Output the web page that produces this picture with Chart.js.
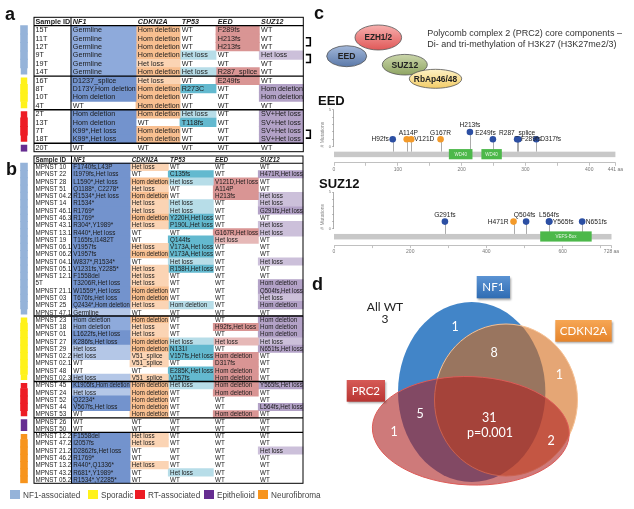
<!DOCTYPE html>
<html>
<head>
<meta charset="utf-8">
<script src="https://cdn.jsdelivr.net/npm/chart.js@4.4.1/dist/chart.umd.min.js"></script>
<style>
html,body{margin:0;padding:0;background:#fff;}
body{position:relative;width:634px;height:509px;overflow:hidden;font-family:"Liberation Sans",Arial,Helvetica,sans-serif;}
canvas{position:absolute;}
.pl{position:absolute;font-weight:bold;font-size:18px;line-height:18px;color:#111;}
.ttl{position:absolute;font-weight:bold;font-size:13px;line-height:13px;color:#111;}
.lg{position:absolute;top:490px;height:11px;font-size:8.2px;line-height:11px;color:#444;white-space:nowrap;}
.lg i{display:inline-block;width:10px;height:9px;vertical-align:-1px;margin-right:3px;}
</style>
</head>
<body>
<canvas id="tA" width="320" height="160" style="left:0;top:0"></canvas>
<canvas id="tB" width="320" height="340" style="left:0;top:150px"></canvas>
<canvas id="pc" width="318" height="92" style="left:316px;top:0"></canvas>
<canvas id="eed" width="318" height="85" style="left:316px;top:90px"></canvas>
<canvas id="suz" width="318" height="85" style="left:316px;top:172px"></canvas>
<canvas id="venn" width="316" height="259" style="left:318px;top:250px"></canvas>
<div class="pl" style="left:5px;top:5px">a</div>
<div class="pl" style="left:6px;top:160px">b</div>
<div class="pl" style="left:314px;top:4px">c</div>
<div class="pl" style="left:312px;top:275px">d</div>
<div class="ttl" style="left:318px;top:94px">EED</div>
<div class="ttl" style="left:319px;top:177px">SUZ12</div>
<div id="legend"></div>
<script>
// ---------------- DATA ----------------
const headers = ['Sample ID', 'NF1', 'CDKN2A', 'TP53', 'EED', 'SUZ12'];
const groupNames = ['NF1-associated', 'Sporadic', 'RT-associated', 'Epithelioid', 'Neurofibroma'];
const groupColors = ['#95b3d9', '#fff21a', '#ed1c24', '#662d91', '#f7941d'];

// Table a
const aSamples = ['15T','11T','12T','9T','19T','14T','16T','8T','10T','4T','2T','13T','7T','18T','20T'];
const aGroups  = [0,0,0,0,0,0,1,1,1,1,2,2,2,2,3];
const aNF1    = ['Germline','Germline','Germline','Germline','Germline','Germline','D1237_splice','D173Y,Hom deletion','Hom deletion','WT','Hom deletion','Hom deletion','K99*,Het loss','K99*,Het loss','WT'];
const aCDKN2A = ['Hom deletion','Hom deletion','Hom deletion','Hom deletion','Het loss','Hom deletion','Het loss','Hom deletion','Hom deletion','Hom deletion','Hom deletion','WT','Hom deletion','Hom deletion','WT'];
const aTP53   = ['WT','WT','WT','Het loss','WT','Het loss','WT','R273C','WT','WT','Het loss','T118fs','WT','WT','WT'];
const aEED    = ['F289fs','H213fs','H213fs','WT','WT','R287_splice','E249fs','WT','WT','WT','WT','WT','WT','WT','WT'];
const aSUZ12  = ['WT','WT','WT','Het loss','WT','WT','WT','Hom deletion','Hom deletion','WT','SV+Het loss','SV+Het loss','SV+Het loss','SV+Het loss','WT'];
const aPairs  = [['11T','12T'], ['9T','19T'], ['7T','18T']];

// Table b
const bSamples = ['MPNST 10','MPNST 22','MPNST 28','MPNST 51','MPNST 04.2','MPNST 14','MPNST 46.1','MPNST 46.3','MPNST 43.1','MPNST 13.1','MPNST 19','MPNST 06.1','MPNST 06.2','MPNST 04.1','MPNST 05.1','MPNST 12.1','5T','MPNST 21.1','MPNST 03','MPNST 25','MPNST 47.1',
  'MPNST 23','MPNST 18','MPNST 01','MPNST 27','MPNST 29','MPNST 02.2','MPNST 02.1','MPNST 48','MPNST 02.3',
  'MPNST 45','MPNST 24','MPNST 52','MPNST 44','MPNST 53',
  'MPNST 26','MPNST 50',
  'MPNST 12.2','MPNST 47.2','MPNST 21.2','MPNST 46.2','MPNST 13.2','MPNST 43.2','MPNST 05.2'];
const bGroups = [0,0,0,0,0,0,0,0,0,0,0,0,0,0,0,0,0,0,0,0,0, 1,1,1,1,1,1,1,1,1, 2,2,2,2,2, 3,3, 4,4,4,4,4,4,4];
const bNF1 = ['F1740fs,L43P','I1979fs,Het loss','L1590*,Het loss','Q1188*, C2278*','R1534*,Het loss','R1534*','R1769*','R1769*','R304*,Y1989*','R440*,Het loss','T165fs,I1482T','V1957fs','V1957fs','W837*,R1534*','V1231fs,Y2285*','F1558del','T3206R,Het loss','W1559*,Het loss','T676fs,Het loss','Q2434*,Hom deletion','Germline',
  'Hom deletion','Hom deletion','L1622fs,Het loss','K286fs,Het loss','Het loss','Het loss','WT','WT','Het loss',
  'K1905fs,Hom deletion','Het loss','Q2234*','V567fs,Het loss','WT',
  'WT','WT',
  'F1558del','I2057fs','D2862fs,Het loss','R1769*','R440*,Q1336*','R681*,Y1989*','R1534*,Y2285*'];
const bCDKN2A = ['Het loss','WT','Hom deletion','Het loss','Hom deletion','Het loss','Het loss','Hom deletion','Het loss','WT','WT','Het loss','Hom deletion','WT','Het loss','Het loss','Het loss','Hom deletion','Hom deletion','Het loss','WT',
  'Hom deletion','Het loss','Het loss','Hom deletion','Hom deletion','V51_splice','V51_splice','WT','V51_splice',
  'Hom deletion','Hom deletion','Hom deletion','Hom deletion','Hom deletion',
  'WT','WT',
  'Het loss','Het loss','WT','WT','Het loss','WT','WT'];
const bTP53 = ['WT','C135fs','Het loss','WT','WT','Het loss','Het loss','Y220H,Het loss','P190L,Het loss','WT','Q144fs','V173A,Het loss','V173A,Het loss','Het loss','R158H,Het loss','WT','WT','WT','WT','Hom deletion','WT',
  'WT','WT','WT','Het loss','N131I','V157fs,Het loss','WT','E285K,Het loss','V157fs',
  'Het loss','WT','WT','WT','WT',
  'WT','WT',
  'WT','WT','WT','WT','WT','Het loss','WT'];
const bEED = ['WT','WT','V121D,Het loss','A114P','H213fs','WT','WT','WT','WT','G167R,Het loss','Het loss','WT','WT','WT','WT','WT','WT','WT','WT','WT','WT',
  'WT','H92fs,Het loss','WT','Het loss','WT','Hom deletion','D317fs','Hom deletion','Hom deletion',
  'Hom deletion','Hom deletion','WT','WT','Hom deletion',
  'WT','WT',
  'WT','WT','WT','WT','WT','WT','WT'];
const bSUZ12 = ['WT','H471R,Het loss','WT','WT','Het loss','Het loss','G291fs,Het loss','WT','Het loss','Het loss','WT','WT','WT','Het loss','WT','WT','Hom deletion','Q504fs,Het loss','Het loss','Hom deletion','WT',
  'Hom deletion','Hom deletion','Hom deletion','Het loss','N651fs,Het loss','WT','WT','WT','WT',
  'Y565fs,Het loss','WT','WT','L564fs,Het loss','WT',
  'WT','WT',
  'WT','WT','Het loss','WT','WT','WT','WT'];

// EED lollipop
const eedLength = 441;
const eedMutations = ['H92fs','A114P','V121D','G167R','H213fs','E249fs','R287_splice','F289fs','D317fs'];
const eedPositions = [92, 114, 121, 167, 213, 249, 287, 289, 317];
const eedCounts    = [1, 1, 1, 1, 2, 1, 1, 1, 1];
const eedTypes     = ['Truncating','Missense','Missense','Missense','Truncating','Truncating','Truncating','Truncating','Truncating'];
const eedDomainNames  = ['WD40', 'WD40'];
const eedDomainStarts = [180, 231];
const eedDomainEnds   = [217, 263];

// SUZ12 lollipop
const suzLength = 728;
const suzMutations = ['G291fs','H471R','Q504fs','L564fs','Y565fs','N651fs'];
const suzPositions = [291, 471, 504, 564, 565, 651];
const suzCounts    = [1, 1, 1, 1, 1, 1];
const suzTypes     = ['Truncating','Missense','Truncating','Truncating','Truncating','Truncating'];
const suzDomainNames  = ['VEFS-Box'];
const suzDomainStarts = [541];
const suzDomainEnds   = [676];

// Venn
const vennSets    = ['NF1', 'CDKN2A', 'PRC2'];
const vennRegions = ['NF1 only', 'NF1+CDKN2A', 'CDKN2A only', 'NF1+PRC2', 'PRC2 only', 'NF1+CDKN2A+PRC2', 'CDKN2A+PRC2'];
const vennCounts  = [1, 8, 1, 5, 1, 31, 2];
const allWTCount  = 3;
const pValue      = '0.001';

// ---------------- STYLE / LAYOUT ----------------
const FONT = '"Liberation Sans", Arial, Helvetica, sans-serif';
Chart.defaults.font.family = FONT;

function cellColor(gene, v, tbl) {
  if (v === 'WT') return null;
  const het = v === 'Het loss';
  const hom = v === 'Hom deletion';
  switch (gene) {
    case 'NF1':
      if (v === 'Germline') return tbl === 'a' ? '#8eaadb' : '#b4c7e7';
      if (het) return '#b4c7e7';
      if (hom) return tbl === 'a' ? '#7393cd' : '#8eaadb';
      return '#7393cd';
    case 'CDKN2A': return hom ? '#f8bf90' : '#fbd4b4';
    case 'TP53': return (het || hom) ? '#b7dde8' : '#63b9cf';
    case 'EED': return het ? '#e6b8b7' : '#d99594';
    case 'SUZ12': return het ? '#ccc0da' : '#b3a2c7';
  }
  return null;
}

function line(ctx, x0, y0, x1, y1) { ctx.beginPath(); ctx.moveTo(x0, y0); ctx.lineTo(x1, y1); ctx.stroke(); }

function buildTable(id, tbl, samples, groups, cols, edges, font, padTop, padBottom, pairs) {
  const N = samples.length + 1;
  const labels = ['Sample ID'].concat(samples);
  const stripX = [20.7, 27.3];
  const datasets = [];
  datasets.push({
    label: 'group',
    data: labels.map((l, i) => i === 0 ? null : stripX.slice()),
    backgroundColor: labels.map((l, i) => i === 0 ? 'rgba(0,0,0,0)' : groupColors[groups[i - 1]]),
    borderColor: '#ffffff',
    borderWidth: (c) => {
      const i = c.dataIndex;
      if (i === 0) return 0;
      const g = groups[i - 1];
      const top = (i > 1 && groups[i - 2] !== g) ? 2 : 0;
      const bottom = (i < N - 1 && groups[i] !== g) ? 2 : 0;
      return { top: top, bottom: bottom, left: 0, right: 0 };
    },
    borderSkipped: false, inflateAmount: 0.5,
    grouped: false, barPercentage: 1, categoryPercentage: 1
  });
  cols.forEach((arr, c) => {
    const gene = headers[c + 1];
    datasets.push({
      label: gene,
      data: labels.map((l, i) => (i === 0 || !cellColor(gene, arr[i - 1], tbl)) ? null : [edges[c + 1], edges[c + 2]]),
      backgroundColor: labels.map((l, i) => i === 0 ? 'rgba(0,0,0,0)' : (cellColor(gene, arr[i - 1], tbl) || 'rgba(0,0,0,0)')),
      borderWidth: 0, inflateAmount: 0.4, grouped: false, barPercentage: 1, categoryPercentage: 1
    });
  });
  const plug = {
    id: 'tbl_' + id,
    afterDatasetsDraw(chart) {
      const { ctx, chartArea: ca, scales: { x, y } } = chart;
      const X = v => x.getPixelForValue(v);
      const yc = i => y.getPixelForValue(i);
      const yb = i => (i <= 0) ? ca.top : (i >= N ? ca.bottom : (yc(i - 1) + yc(i)) / 2);
      ctx.save();
      ctx.textBaseline = 'middle';
      ctx.textAlign = 'left';
      ctx.fillStyle = '#1a1a1a';
      for (let i = 0; i < N; i++) {
        for (let c = 0; c < 6; c++) {
          let t;
          if (i === 0) {
            t = headers[c];
            ctx.font = (c === 0 ? 'bold ' : 'italic bold ') + font + 'px ' + FONT;
          } else {
            t = c === 0 ? samples[i - 1] : cols[c - 1][i - 1];
            ctx.font = font + 'px ' + FONT;
          }
          const x0 = X(edges[c]) + (c === 0 ? 1.5 : 1.8);
          const maxW = X(edges[c + 1]) - x0 - 0.3;
          ctx.fillText(t, x0, yc(i) + 0.4, maxW);
        }
      }
      ctx.strokeStyle = '#000';
      ctx.lineWidth = 1;
      ctx.strokeRect(X(edges[0]), ca.top, X(edges[6]) - X(edges[0]), ca.bottom - ca.top);
      line(ctx, X(edges[1]), ca.top, X(edges[1]), ca.bottom);
      ctx.lineWidth = 1.2;
      line(ctx, X(edges[0]), yb(1), X(edges[6]), yb(1));
      ctx.lineWidth = 1.4;
      for (let j = 2; j < N; j++) {
        if (groups[j - 1] !== groups[j - 2]) line(ctx, X(edges[0]), yb(j), X(edges[6]), yb(j));
      }
      if (pairs) {
        ctx.lineWidth = 1.6;
        pairs.forEach(p => {
          const i1 = samples.indexOf(p[0]) + 1, i2 = samples.indexOf(p[1]) + 1;
          const y1 = yc(i1) - 0.5, y2 = yc(i2) - 1;
          const xa = X(edges[6]) + 2.5, xb = X(edges[6]) + 7;
          ctx.beginPath(); ctx.moveTo(xa, y1); ctx.lineTo(xb, y1); ctx.lineTo(xb, y2); ctx.lineTo(xa, y2); ctx.stroke();
        });
      }
      ctx.restore();
    }
  };
  const cv = document.getElementById(id);
  return new Chart(cv, {
    type: 'bar',
    data: { labels: labels, datasets: datasets },
    options: {
      responsive: false, animation: false, devicePixelRatio: 1,
      indexAxis: 'y',
      layout: { padding: { left: 0, right: 0, top: padTop, bottom: padBottom } },
      scales: {
        x: { type: 'linear', min: 0, max: cv.width, display: false },
        y: { type: 'category', display: false, offset: true }
      },
      plugins: { legend: { display: false }, tooltip: { enabled: false } }
    },
    plugins: [plug]
  });
}

const edgesA = [34, 71, 136, 180, 216, 259.3, 303.3];
const edgesB = [34, 71.5, 130, 168.3, 213.3, 258.3, 303];
buildTable('tA', 'a', aSamples, aGroups, [aNF1, aCDKN2A, aTP53, aEED, aSUZ12], edgesA, 7.2, 17.3, 8.3, aPairs);
buildTable('tB', 'b', bSamples, bGroups, [bNF1, bCDKN2A, bTP53, bEED, bSUZ12], edgesB, 6.3, 6, 6.7, null);

// Legend
(function () {
  const lefts = [10, 88, 135, 204, 258];
  const el = document.getElementById('legend');
  groupNames.forEach((g, i) => {
    const d = document.createElement('div');
    d.className = 'lg';
    d.style.left = lefts[i] + 'px';
    d.innerHTML = '<i style="background:' + groupColors[i] + '"></i>' + g;
    el.appendChild(d);
  });
})();

// ---------------- LOLLIPOPS ----------------
const BAR = [-0.68, -1.43];
const DOM = [-0.33, -1.72];
function buildLollipop(id, p) {
  const trunc = [], mis = [];
  p.names.forEach((n, i) => {
    const pt = { x: p.positions[i], y: p.counts[i] };
    (p.types[i] === 'Missense' ? mis : trunc).push(pt);
  });
  const plug = {
    id: 'lol_' + id,
    beforeDatasetsDraw(chart) {
      const { ctx, scales: { x, y } } = chart;
      ctx.save();
      const bt = y.getPixelForValue(BAR[0]), bb = y.getPixelForValue(BAR[1]);
      ctx.fillStyle = '#c8c8c8';
      ctx.fillRect(x.getPixelForValue(0), bt, x.getPixelForValue(p.length) - x.getPixelForValue(0), bb - bt);
      ctx.strokeStyle = '#ababab'; ctx.lineWidth = 1;
      p.positions.forEach((pos, i) => {
        const px = Math.round(x.getPixelForValue(pos)) + 0.5;
        line(ctx, px, bt, px, y.getPixelForValue(p.counts[i]));
      });
      p.domainNames.forEach((d, i) => {
        const x0 = x.getPixelForValue(p.domainStarts[i]), x1 = x.getPixelForValue(p.domainEnds[i]);
        const t = y.getPixelForValue(DOM[0]), b = y.getPixelForValue(DOM[1]);
        ctx.fillStyle = '#4cb84a';
        ctx.fillRect(x0, t, x1 - x0, b - t);
        ctx.fillStyle = '#e6f4e4';
        ctx.font = '4.5px ' + FONT; ctx.textAlign = 'center'; ctx.textBaseline = 'middle';
        ctx.fillText(d, (x0 + x1) / 2, (t + b) / 2 + 0.3);
      });
      ctx.strokeStyle = '#999'; ctx.lineWidth = 0.8;
      const ax = y.right - 0.5;
      line(ctx, ax, y.getPixelForValue(0), ax, y.getPixelForValue(5));
      ctx.restore();
    },
    afterDatasetsDraw(chart) {
      const { ctx, scales: { x, y } } = chart;
      ctx.save();
      ctx.font = p.labelFont + 'px ' + FONT;
      ctx.fillStyle = '#222';
      ctx.textBaseline = 'middle';
      p.names.forEach((n, i) => {
        const px = x.getPixelForValue(p.positions[i]), py = y.getPixelForValue(p.counts[i]);
        const pl = p.place[i];
        if (pl[0] === 'a') { ctx.textAlign = 'center'; ctx.fillText(n, px + pl[1], py - 6.4 + pl[2]); }
        else if (pl[0] === 'l') { ctx.textAlign = 'right'; ctx.fillText(n, px - 4 + pl[1], py + 0.3 + pl[2]); }
        else { ctx.textAlign = 'left'; ctx.fillText(n, px + 4 + pl[1], py + 0.3 + pl[2]); }
      });
      ctx.restore();
    }
  };
  return new Chart(document.getElementById(id), {
    type: 'scatter',
    data: {
      datasets: [
        { label: 'Truncating', data: trunc, pointRadius: 3.3, pointBackgroundColor: '#2c4fa3', pointBorderWidth: 0, pointBorderColor: '#2c4fa3' },
        { label: 'Missense', data: mis, pointRadius: 3.3, pointBackgroundColor: '#f39a2a', pointBorderWidth: 0, pointBorderColor: '#f39a2a' }
      ]
    },
    options: {
      responsive: false, animation: false, devicePixelRatio: 1,
      layout: { padding: { left: 4, right: p.padRight, top: p.padTop, bottom: p.padBottom } },
      scales: {
        x: {
          type: 'linear', min: 0, max: p.length,
          afterBuildTicks: (s) => { s.ticks = p.xTicks.map(v => ({ value: v })); },
          afterFit: (s) => { s.height = 10; },
          ticks: { autoSkip: false, maxRotation: 0, minRotation: 0, padding: 1, color: '#777', font: { size: 5 },
            callback: (v) => v === p.length ? (v + ' aa') : (p.xLabels.includes(v) ? String(v) : '') },
          grid: { drawOnChartArea: false, drawTicks: true, tickLength: 3, color: '#999', lineWidth: 0.6 },
          border: { display: true, color: '#b0b0b0', width: 0.8 }
        },
        y: {
          type: 'linear', min: -2.2, max: 5.5,
          afterBuildTicks: (s) => { s.ticks = [0, 1, 2, 3, 4, 5].map(v => ({ value: v })); },
          afterFit: (s) => { s.width = 14; },
          ticks: { autoSkip: false, padding: 1, color: '#777', font: { size: 4 }, callback: (v) => (v === 0 || v === 5) ? String(v) : '' },
          grid: { drawOnChartArea: false, drawTicks: true, tickLength: 2, color: '#999', lineWidth: 0.6 },
          border: { display: false },
          title: { display: true, text: '# Mutations', color: '#888', font: { size: 5 }, padding: 0 }
        }
      },
      plugins: { legend: { display: false }, tooltip: { enabled: false } }
    },
    plugins: [plug]
  });
}

buildLollipop('eed', {
  length: eedLength, names: eedMutations, positions: eedPositions, counts: eedCounts, types: eedTypes,
  domainNames: eedDomainNames, domainStarts: eedDomainStarts, domainEnds: eedDomainEnds,
  xTicks: [0, 50, 100, 150, 200, 250, 300, 350, 400, 441], xLabels: [0, 100, 200, 300, 400],
  labelFont: 6.6,
  place: [['l', 0, 0], ['a', 1.6, 0], ['r', -1, 0], ['a', 0, 0], ['a', 0, 0], ['a', -7.4, 0], ['a', 0, 0], ['r', -1.5, 0], ['r', 0, 0]],
  padTop: 16.3, padBottom: 2.2, padRight: 18.6
});
buildLollipop('suz', {
  length: suzLength, names: suzMutations, positions: suzPositions, counts: suzCounts, types: suzTypes,
  domainNames: suzDomainNames, domainStarts: suzDomainStarts, domainEnds: suzDomainEnds,
  xTicks: [0, 100, 200, 300, 400, 500, 600, 700, 728], xLabels: [0, 200, 400, 600],
  labelFont: 6.7,
  place: [['a', 0, 0], ['l', -1, 0], ['a', -1.5, 0], ['a', 0, 0], ['r', -0.6, 0], ['r', -0.5, 0]],
  padTop: 16.6, padBottom: 1.9, padRight: 22.5
});

// ---------------- PANEL C (PRC2 complex) ----------------
const pcShapes = [
  { name: 'EED', cx: 30.7, cy: 56.2, rx: 20, ry: 10.5, c1: '#a3b8da', c2: '#5b79a9', fs: 8.6 },
  { name: 'EZH1/2', cx: 62.3, cy: 37.5, rx: 23.3, ry: 12.5, c1: '#f7b0ae', c2: '#e05858', fs: 8.2 },
  { name: 'SUZ12', cx: 88.8, cy: 64.7, rx: 22.5, ry: 10.3, c1: '#cbd6ab', c2: '#8fa563', fs: 8.6 },
  { name: 'RbAp46/48', cx: 119.5, cy: 78.8, rx: 26.2, ry: 9.5, c1: '#fdf1c4', c2: '#f3cd68', fs: 8.4 }
];
const pcText = ['Polycomb complex 2 (PRC2) core components \u2013', 'Di- and tri-methylation of H3K27 (H3K27me2/3)'];
new Chart(document.getElementById('pc'), {
  type: 'scatter',
  data: { datasets: [{ data: [] }] },
  options: {
    responsive: false, animation: false, devicePixelRatio: 1,
    layout: { padding: 0 },
    scales: { x: { type: 'linear', min: 0, max: 318, display: false }, y: { type: 'linear', min: 0, max: 92, reverse: true, display: false } },
    plugins: { legend: { display: false }, tooltip: { enabled: false } }
  },
  plugins: [{
    id: 'pcdraw',
    afterDatasetsDraw(chart) {
      const { ctx, scales: { x, y } } = chart;
      ctx.save();
      pcShapes.forEach(s => {
        const cx = x.getPixelForValue(s.cx), cy = y.getPixelForValue(s.cy);
        const rx = x.getPixelForValue(s.cx + s.rx) - cx, ry = y.getPixelForValue(s.cy + s.ry) - cy;
        const g = ctx.createLinearGradient(0, cy - ry, 0, cy + ry);
        g.addColorStop(0, s.c1); g.addColorStop(1, s.c2);
        ctx.beginPath(); ctx.ellipse(cx, cy, rx, ry, 0, 0, Math.PI * 2);
        ctx.fillStyle = g; ctx.fill();
        ctx.lineWidth = 0.8; ctx.strokeStyle = '#555'; ctx.stroke();
      });
      ctx.fillStyle = '#222'; ctx.textAlign = 'center'; ctx.textBaseline = 'middle';
      pcShapes.forEach(s => {
        ctx.font = 'bold ' + s.fs + 'px ' + FONT;
        ctx.fillText(s.name, x.getPixelForValue(s.cx), y.getPixelForValue(s.cy) + 0.5);
      });
      ctx.font = '9px ' + FONT; ctx.fillStyle = '#333'; ctx.textAlign = 'left';
      ctx.fillText(pcText[0], x.getPixelForValue(111.3), y.getPixelForValue(33.3));
      ctx.fillText(pcText[1], x.getPixelForValue(111.3), y.getPixelForValue(45));
      ctx.restore();
    }
  }]
});

// ---------------- VENN ----------------
const vennShapes = [
  { cx: 153.7, cy: 142, rx: 73.7, ry: 90, rot: 0, fill: 'rgb(66,133,200)', stroke: null },
  { cx: 188, cy: 150, rx: 71.5, ry: 76, rot: 0, fill: 'rgba(212,107,25,0.6)', stroke: '#f6c194' },
  { cx: 152.8, cy: 180.8, rx: 98.5, ry: 54.2, rot: 0.04, fill: 'rgba(173,33,33,0.6)', stroke: '#dd5b57' }
];
const vennLabelPos = [[137, 77.3], [176, 103.3], [241.3, 125], [102, 164.3], [76, 181.7], [171.3, 168.3], [233, 190.7]];
const vennBoxes = [
  { x0: 158.7, y0: 26, x1: 192, y1: 48.3, c1: '#5b93d3', c2: '#2f6cb3' },
  { x0: 237.3, y0: 70, x1: 293.7, y1: 91.7, c1: '#f6a654', c2: '#e5842b' },
  { x0: 28.7, y0: 130, x1: 67, y1: 151.7, c1: '#d65a56', c2: '#b83532' }
];
new Chart(document.getElementById('venn'), {
  type: 'scatter',
  data: { datasets: [{ data: [] }] },
  options: {
    responsive: false, animation: false, devicePixelRatio: 1,
    layout: { padding: 0 },
    scales: { x: { type: 'linear', min: 0, max: 316, display: false }, y: { type: 'linear', min: 0, max: 259, reverse: true, display: false } },
    plugins: { legend: { display: false }, tooltip: { enabled: false } }
  },
  plugins: [{
    id: 'venndraw',
    afterDatasetsDraw(chart) {
      const { ctx, scales: { x, y } } = chart;
      const X = v => x.getPixelForValue(v), Y = v => y.getPixelForValue(v);
      ctx.save();
      vennShapes.forEach(s => {
        ctx.beginPath();
        ctx.ellipse(X(s.cx), Y(s.cy), X(s.cx + s.rx) - X(s.cx), Y(s.cy + s.ry) - Y(s.cy), s.rot, 0, Math.PI * 2);
        ctx.fillStyle = s.fill; ctx.fill();
        if (s.stroke) { ctx.lineWidth = 1; ctx.strokeStyle = s.stroke; ctx.stroke(); }
      });
      ctx.textAlign = 'center'; ctx.textBaseline = 'middle';
      ctx.fillStyle = '#ffffff';
      ctx.font = '12.5px Lato, "Open Sans", sans-serif';
      vennCounts.forEach((v, i) => {
        ctx.fillText(String(v), X(vennLabelPos[i][0]), Y(vennLabelPos[i][1]));
      });
      ctx.fillText('p=' + pValue, X(172), Y(183.3));
      ctx.fillStyle = '#222';
      ctx.font = '12px Lato, "Open Sans", sans-serif';
      ctx.fillText('All WT', X(67), Y(56.7));
      ctx.fillText(String(allWTCount), X(67), Y(69.3));
      vennBoxes.forEach((b, i) => {
        const g = ctx.createLinearGradient(0, Y(b.y0), 0, Y(b.y1));
        g.addColorStop(0, b.c1); g.addColorStop(1, b.c2);
        ctx.save();
        ctx.shadowColor = 'rgba(0,0,0,0.35)'; ctx.shadowBlur = 2; ctx.shadowOffsetX = 1; ctx.shadowOffsetY = 1.5;
        ctx.fillStyle = g;
        ctx.fillRect(X(b.x0), Y(b.y0), X(b.x1) - X(b.x0), Y(b.y1) - Y(b.y0));
        ctx.restore();
        ctx.fillStyle = '#ffffff';
        ctx.font = '11.5px Lato, "Open Sans", sans-serif';
        ctx.fillText(vennSets[i], (X(b.x0) + X(b.x1)) / 2, (Y(b.y0) + Y(b.y1)) / 2 + 0.5);
      });
      ctx.restore();
    }
  }]
});
</script>
</body>
</html>
